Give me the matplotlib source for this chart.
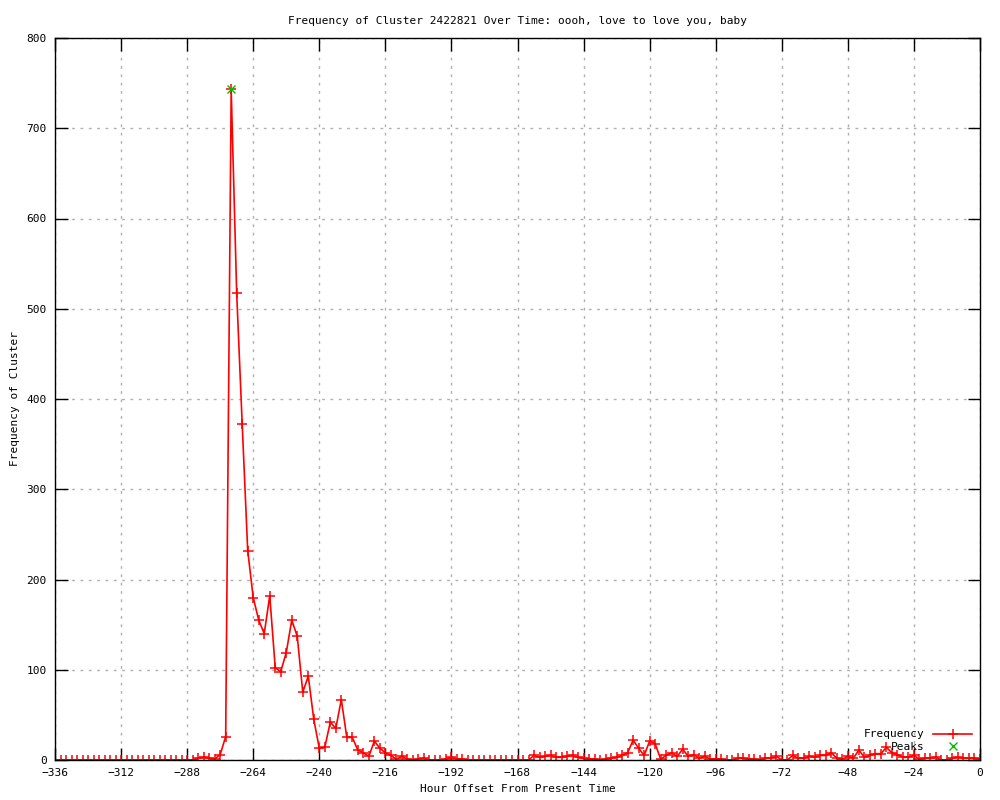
import numpy as np
import matplotlib
matplotlib.use("Agg")
import matplotlib.pyplot as plt

plt.rcParams['font.family'] = ['DejaVu Sans Mono']

# hour offsets, every 2 hours from -336 to 0
hours = list(range(-336, 1, 2))

# frequency, one value per 2-hour step
freq = ([0] * 26 +
        [2, 3, 2, 1, 6, 26, 743, 517, 372, 232,
         180, 155, 140, 182, 102, 98, 119, 155, 137, 75,
         93, 45, 13, 14, 42, 35, 67, 25, 25, 11,
         8, 4, 21, 13, 8, 5, 1, 4, 1, 0,
         1, 2, 0, 0, 0, 1, 3, 1, 1] +
        [0] * 12 +
        [5, 3, 4, 5, 3, 3, 4, 5, 3, 2,
         1, 1, 0, 1, 2, 3, 5, 8, 22, 13,
         5, 21, 18, 1, 5, 8, 4, 12, 4, 6,
         2, 4, 1, 1, 1, 0, 0, 2, 2, 1,
         1, 0, 2, 2, 4, 0, 0, 5, 2, 2,
         4, 3, 5, 5, 8, 2, 1, 4, 2, 11,
         3, 5, 7, 7, 14, 8, 6, 3, 3, 5,
         1, 2, 2, 3, 0, 0, 2, 3, 2, 2,
         2, 1])

peak_hours = [-272]
peak_freq = [743]

xticks = list(range(-336, 1, 24))
yticks = list(range(0, 801, 100))

fig = plt.figure(figsize=(10, 8), dpi=100)
ax = fig.add_axes([0.055, 0.05, 0.925, 0.9025])

ax.plot(hours, freq, color='red', lw=1.2, marker='+', ms=7, mew=1.1,
        label='Frequency')
ax.plot(peak_hours, peak_freq, color='#00c000', ls='none', marker='x',
        ms=6, mew=1.0, label='Peaks')

ax.set_xlim(-336, 0)
ax.set_ylim(0, 800)
ax.set_xticks(xticks)
ax.set_yticks(yticks)
ax.tick_params(direction='in', length=9, width=1, top=True, right=True,
               labelsize=8, pad=6)
ax.grid(True, color='#b0b0b0', ls=(0, (2, 4)), lw=1)
ax.set_axisbelow(True)
for s in ax.spines.values():
    s.set_linewidth(1)

ax.set_title('Frequency of Cluster 2422821 Over Time: oooh, love to love you, baby',
             fontsize=8, pad=10)
ax.set_xlabel('Hour Offset From Present Time', fontsize=8, labelpad=4)
ax.set_ylabel('Frequency of Cluster', fontsize=8)
ax.yaxis.set_label_coords(-0.038, 0.5)

ax.legend(loc='lower right', frameon=False, markerfirst=False, fontsize=8,
          handlelength=3.5, borderaxespad=0.3, labelspacing=0.25)

fig.savefig('out.png', dpi=100)
